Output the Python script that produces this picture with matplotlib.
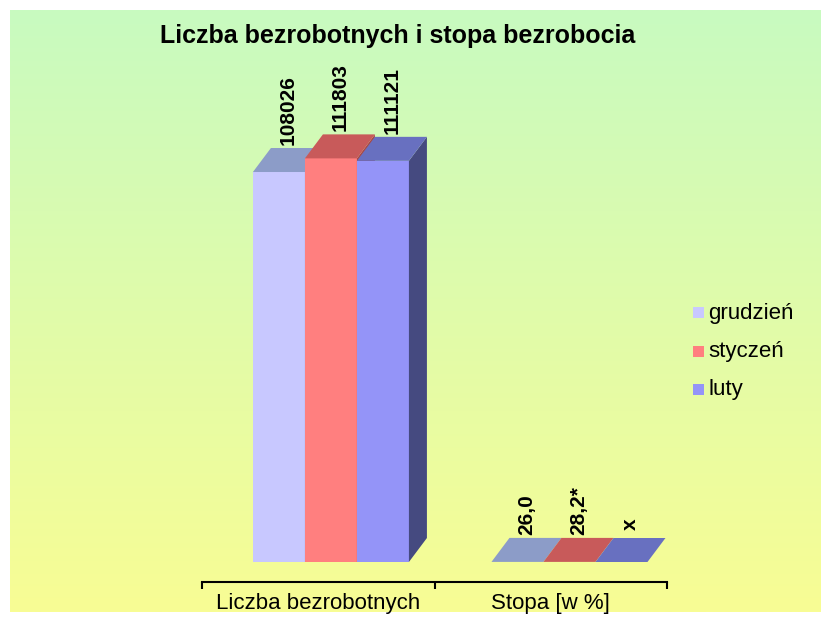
import matplotlib
matplotlib.use('Agg')
from matplotlib import pyplot as plt
from matplotlib.patches import Polygon, Rectangle
import numpy as np

plt.rcParams['font.family'] = ['Liberation Sans', 'DejaVu Sans']

categories = ['Liczba bezrobotnych', 'Stopa [w %]']
months = ['grudzień', 'styczeń', 'luty']
liczba = [108026, 111803, 111121]
stopa = [26.0, 28.2, 0.0]          # luty: brak danych (x)
liczba_labels = ['108026', '111803', '111121']
stopa_labels = ['26,0', '28,2*', 'x']

front_colors = ['#c8c8ff', '#ff7f7f', '#9494f8']
top_colors = ['#8c9cc8', '#c85a5a', '#6870c0']
side_colors = ['#8890b8', '#a84848', '#454a80']

fig = plt.figure(figsize=(8.3, 6.2), dpi=100)

# gradient background (green at top -> yellow at bottom)
bg = fig.add_axes([10/830, 8/620, 810/830, 602/620])
grad = np.linspace(0, 1, 256).reshape(-1, 1)
top_c = np.array([200, 250, 192]) / 255
bot_c = np.array([248, 253, 148]) / 255
img = top_c * (1 - grad[..., None]) + bot_c * grad[..., None]
bg.imshow(img, aspect='auto', extent=[0, 1, 0, 1])
bg.axis('off')

ax = fig.add_axes([202/830, 38/620, 465/830, 482/620])
ax.patch.set_alpha(0)

px_val = 277.0          # value units per pixel
bar_w = 52 / 232.5      # in category units
dx = 18 / 232.5
dy = 24 * px_val
starts = [0.219, 0.245]  # front face offset inside each category

series = [liczba, stopa]
labels = [liczba_labels, stopa_labels]
for c in range(len(categories)):
    for i in range(len(months)):
        v = series[c][i]
        x0 = c + starts[c] + i * bar_w
        x1 = x0 + bar_w
        ax.bar(x0, v, width=bar_w, align='edge', color=front_colors[i],
               edgecolor='none', zorder=2 + i)
        ax.add_patch(Polygon([[x1, 0], [x1 + dx, dy], [x1 + dx, v + dy], [x1, v]],
                             closed=True, facecolor=side_colors[i], edgecolor='none', zorder=2 + i))
        ax.add_patch(Polygon([[x0, v], [x0 + dx, v + dy], [x1 + dx, v + dy], [x1, v]],
                             closed=True, facecolor=top_colors[i], edgecolor='none', zorder=2 + i))
        lx = x0 + bar_w / 2 + dx / 2
        ly = v + dy + 3 * px_val
        if labels[c][i] == 'x':
            ly += 5 * px_val
        ax.text(lx, ly, labels[c][i], rotation=90, ha='center', va='bottom',
                fontsize=15, fontweight='bold', zorder=10)

ax.set_xlim(0, 2)
ax.set_ylim(-20 * px_val, (562 - 100) * px_val)
for s in ['top', 'right', 'left']:
    ax.spines[s].set_visible(False)
ax.spines['bottom'].set_linewidth(1.5)
ax.set_yticks([])
ax.set_xticks([0, 1, 2])
ax.set_xticklabels([])
ax.tick_params(axis='x', which='major', length=5, width=1.5, direction='out')
ax.set_xticks([0.5, 1.5], minor=True)
ax.set_xticklabels(categories, minor=True, fontsize=16)
ax.tick_params(axis='x', which='minor', length=0, pad=8)

fig.text(398/830, 1 - 36/620, 'Liczba bezrobotnych i stopa bezrobocia',
         ha='center', va='center', fontsize=18, fontweight='bold')

# legend
for i, m in enumerate(months):
    yy = 1 - (313 + i * 38.5) / 620
    fig.patches.append(Rectangle((693/830, yy - 5/620), 11/830, 11/620,
                                 transform=fig.transFigure, facecolor=front_colors[i],
                                 edgecolor='none'))
    fig.text(708/830, yy, m, ha='left', va='center', fontsize=16)

plt.savefig('out.png', dpi=100)
